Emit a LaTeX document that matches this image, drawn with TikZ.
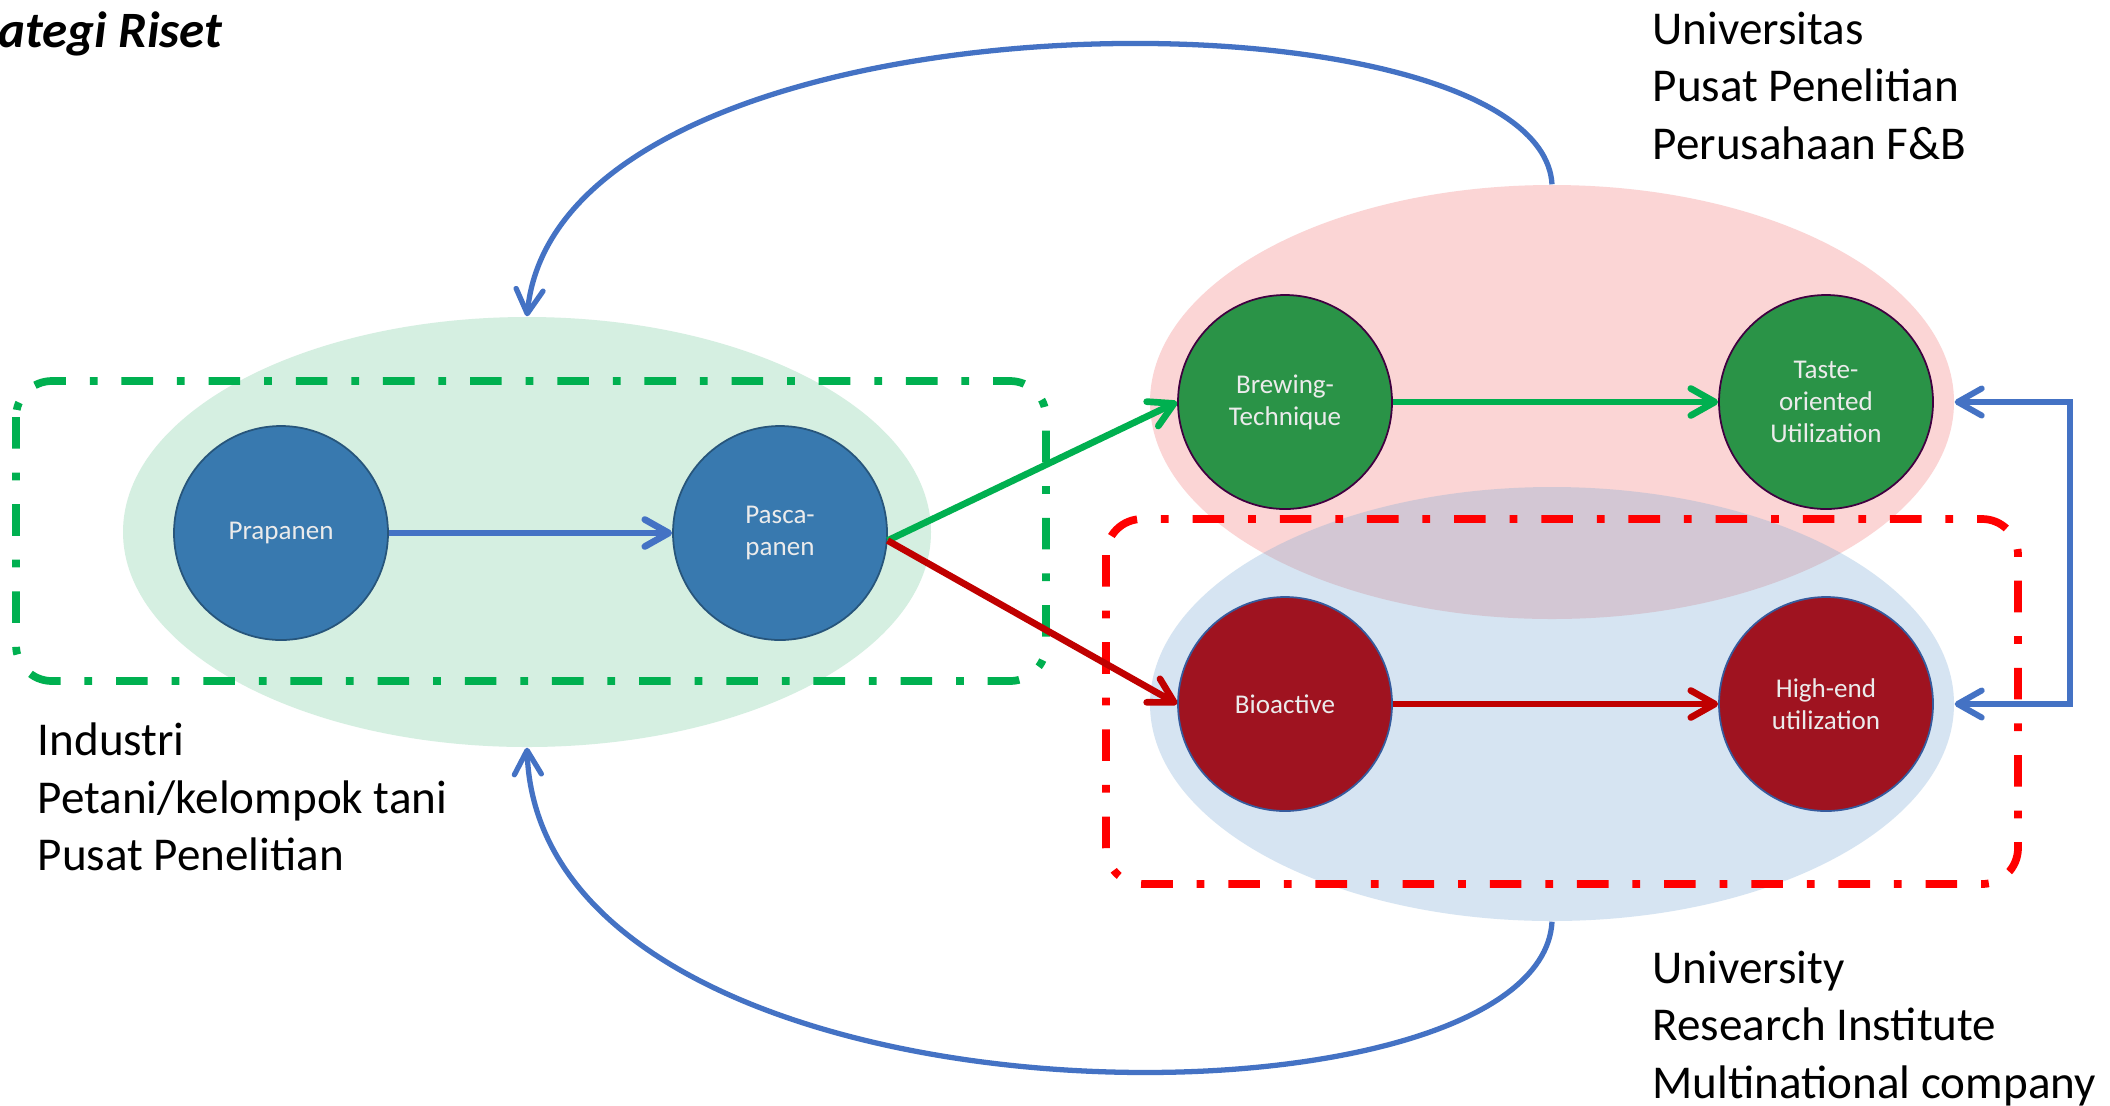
\documentclass[tikz,border=0pt]{standalone}
\usepackage{fontspec}
\setmainfont{Carlito}
\usetikzlibrary{shapes.geometric,arrows.meta}
\definecolor{zonegreen}{HTML}{D5EFE1}
\definecolor{zonepink}{HTML}{FBD5D5}
\definecolor{zoneblue}{RGB}{120,168,212}
\definecolor{stageblue}{HTML}{3879AF}
\definecolor{stagegreen}{HTML}{2A9347}
\definecolor{stagered}{HTML}{9F1320}
\definecolor{linkblue}{HTML}{4472C4}
\definecolor{linkgreen}{HTML}{00B050}
\definecolor{linkred}{HTML}{C00000}
\begin{document}
\begin{tikzpicture}[
    >={Straight Barb[length=0.24cm,width=0.27cm,round]},
    zone/.style={ellipse,minimum width=8.04cm,minimum height=4.34cm,inner sep=0pt},
    stage/.style={circle,minimum size=2.14cm,inner sep=1pt,align=center,line width=0.5pt,text=white!92!black,font=\fontsize{7.7}{9.1}\selectfont},
    flow/.style={line width=1.9pt,->},
    loop/.style={line width=1.5pt,->},
    groupframe/.style={line width=2.2pt,rounded corners=0.36cm,dash pattern=on 9pt off 6.8pt on 2.2pt off 6.8pt},
    grouplabel/.style={anchor=north west,align=left,inner sep=0pt,font=\fontsize{13.4}{16.4}\selectfont}
]
    %% Canvas
    \fill[white] (0,0) rectangle (21.1,-11.05);
    \useasboundingbox (0,0) rectangle (21.1,-11.05);
    %% Zones
    \node[zone,fill=zonegreen,minimum width=8.08cm,minimum height=4.3cm] (farmzone) at (5.27,-5.32) {};
    \node[zone,fill=zonepink] (tastezone) at (15.52,-4.02) {};
    \node[zone,fill=zoneblue,fill opacity=0.3] (healthzone) at (15.52,-7.04) {};
    %% Frames
    \draw[groupframe,linkgreen] (0.16,-3.81) rectangle (10.46,-6.81);
    \draw[groupframe,red] (11.06,-5.19) rectangle (20.18,-8.84);
    %% Stages
    \node[stage,fill=stageblue,draw=stageblue!70!black] (prapanen) at (2.81,-5.33) {Prapanen};
    \node[stage,fill=stageblue,draw=stageblue!70!black] (pasca) at (7.80,-5.33) {Pasca-\\panen};
    \node[stage,fill=stagegreen,draw=violet!50!black] (brewing) at (12.85,-4.02) {Brewing-\\Technique};
    \node[stage,fill=stagegreen,draw=violet!50!black] (taste) at (18.26,-4.02) {Taste-\\oriented\\Utilization};
    \node[stage,fill=stagered,draw=linkblue!80!black] (bioactive) at (12.85,-7.04) {Bioactive};
    \node[stage,fill=stagered,draw=linkblue!80!black] (highend) at (18.26,-7.04) {High-end\\utilization};
    %% Flows
    \draw[flow,linkblue] (prapanen) -- (pasca);
    \draw[flow,linkgreen] (pasca.-4) -- (brewing.west);
    \draw[flow,linkred] (pasca.-4) -- (bioactive.west);
    \draw[flow,linkgreen] (brewing) -- (taste);
    \draw[flow,linkred] (bioactive) -- (highend);
    \draw[loop,linkblue,line width=1.7pt,<->] (tastezone.east) -- ++(1.15,0) |- (healthzone.east);
    \draw[loop,linkblue] (tastezone.north) .. controls (15.40,0.20) and (5.60,0.22) .. (farmzone.north);
    \draw[loop,linkblue] (healthzone.south) .. controls (15.40,-11.45) and (5.40,-11.45) .. (farmzone.south);
    %% Labels
    \node[anchor=base east,inner sep=0pt,font=\bfseries\itshape\fontsize{14.5}{17}\selectfont] (title) at (2.23,-0.47) {ategi Riset};
    \node[grouplabel] (unilabel) at (16.52,-0.11) {Universitas\\Pusat Penelitian\\Perusahaan F\&B};
    \node[grouplabel] (farmlabel) at (0.37,-7.22) {Industri\\Petani/kelompok tani\\Pusat Penelitian};
    \node[grouplabel] (globallabel) at (16.52,-9.50) {University\\Research Institute\\Multinational company};
\end{tikzpicture}
\end{document}
